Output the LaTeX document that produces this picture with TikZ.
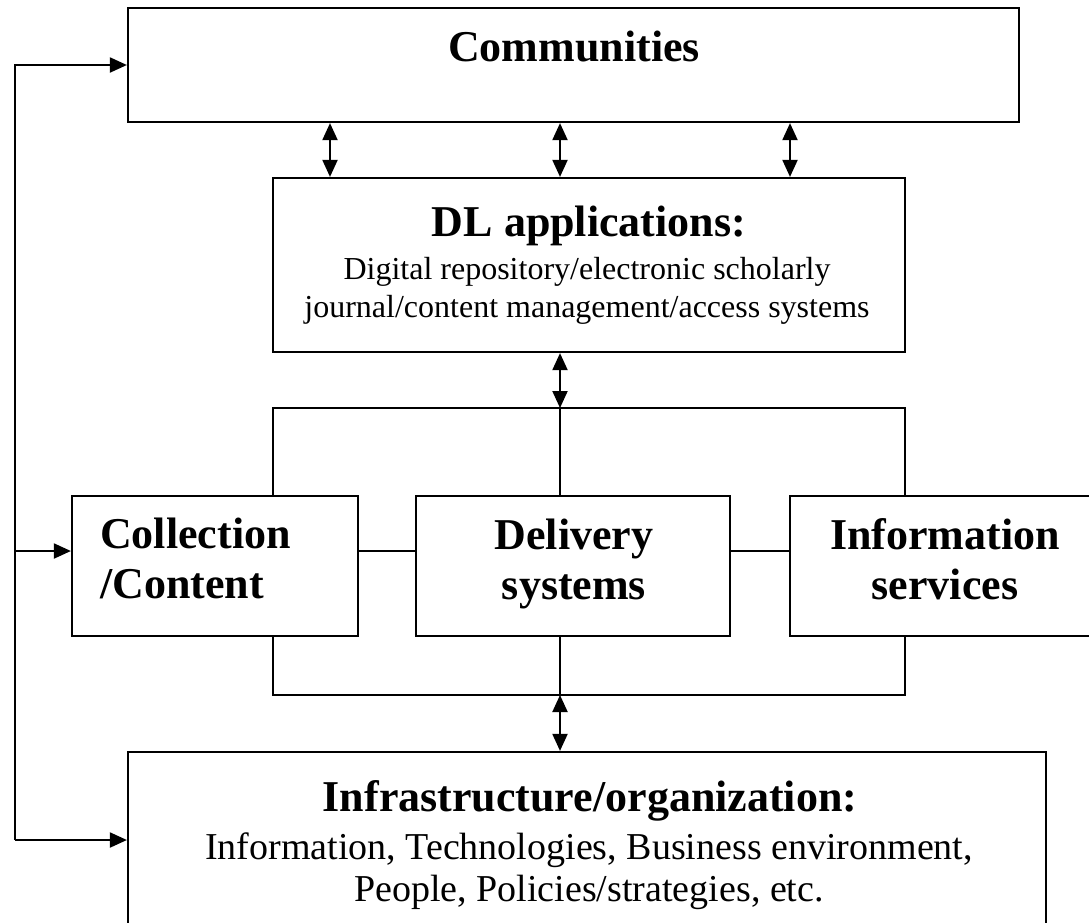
\documentclass[tikz,border=0pt]{standalone}
\usepackage{fontspec}
\setmainfont{Liberation Serif}
\usetikzlibrary{arrows.meta,positioning}

\begin{document}
\begin{tikzpicture}[x=1pt,y=-1pt,
 box/.style={draw,line width=2.2pt,inner sep=0pt},
 head/.style={font=\fontsize{44}{50}\selectfont\bfseries,align=center,inner sep=0pt},
 body/.style={font=\fontsize{32}{38}\selectfont,align=center,inner sep=0pt},
 link/.style={line width=2pt},
 dbl/.style={line width=2pt,{Triangle[length=17pt,width=15pt]}-{Triangle[length=17pt,width=15pt]}},
 tip/.style={line width=2pt,-{Triangle[length=17pt,width=15pt]}}]
\useasboundingbox (0,0) rectangle (1089,922);
\node[box,minimum width=891,minimum height=114] (comm) at (573.5,65) {};
\node[box,minimum width=632,minimum height=174] (dl) at (589,265) {};
\node[box,minimum width=286,minimum height=140] (coll) at (215,566) {};
\node[box,minimum width=314,minimum height=140] (deliv) at (573,566) {};
\node[box,minimum width=305,minimum height=140] (info) at (942.5,566) {};
\node[box,minimum width=918,minimum height=190] (infra) at (587,847) {};
\node[head] (commtxt) at (574,46) {Communities};
\node[head] (dlhead) at (589,226) {DL applications:};
\node[body] (dlsub) at (587,291) {Digital repository/electronic scholarly\\journal/content management/access systems};
\node[head,align=left,anchor=west] (colltxt) at (100,558) {Collection\\/Content};
\node[head] (delivtxt) at (574,564) {Delivery\\systems};
\node[head] (infotxt) at (945,559) {Information\\services};
\node[head] (infrahead) at (590,801) {Infrastructure/organization:};
\node[body,font=\fontsize{38}{42}\selectfont] (infrasub) at (589,871) {Information, Technologies, Business environment,\\People, Policies/strategies, etc.};
\coordinate (top) at (560,408);
\coordinate (bot) at (560,695);
\coordinate (lb) at (273,0);
\coordinate (rb) at (905,0);
\coordinate (row) at (0,551);
\coordinate (side) at (15,840);
\foreach \x in {330,560,790}
 \draw[dbl] (\x,0 |- comm.south) -- (\x,0 |- dl.north);
\draw[dbl] (dl.south -| top) -- (top);
\draw[link] (lb |- coll.north) |- (top) -| (rb |- info.north);
\draw[link] (top) -- (top |- deliv.north);
\draw[link] (lb |- coll.south) |- (bot) -| (rb |- info.south);
\draw[link] (bot) -- (bot |- deliv.south);
\draw[dbl] (bot) -- (bot |- infra.north);
\draw[link] (coll.east |- row) -- (deliv.west |- row);
\draw[link] (deliv.east |- row) -- (info.west |- row);
\draw[tip] (side) |- (comm.west);
\draw[tip] (side |- row) -- (coll.west |- row);
\draw[tip] (side) -- (side -| infra.west);
\end{tikzpicture}
\end{document}
